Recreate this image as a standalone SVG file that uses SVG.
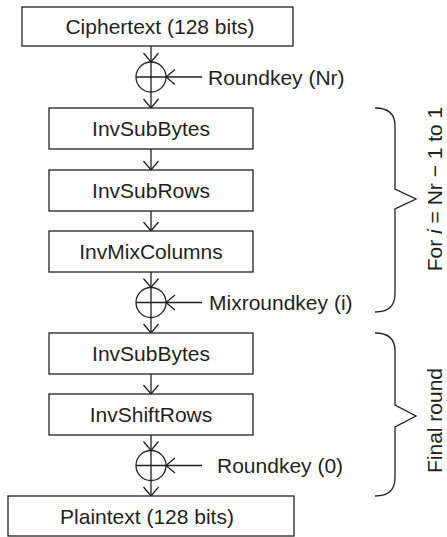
<svg xmlns="http://www.w3.org/2000/svg" width="447" height="537" viewBox="0 0 447 537">
  <defs>
    <style>
      .box { fill: #ffffff; stroke: #231f20; stroke-width: 1.3; }
      .ln { fill: none; stroke: #231f20; stroke-width: 1.3; }
      .lbl { font-family: "Liberation Sans", Arial, Helvetica, sans-serif; font-size: 21px; fill: #231f20; }
      .mid { text-anchor: middle; }
    </style>
    <!-- open V arrowhead -->
    <marker id="vee" viewBox="-10 -9 12 18" markerWidth="12" markerHeight="18" refX="0" refY="0" orient="auto" markerUnits="userSpaceOnUse">
      <path d="M-9,-7.5 L0,0 L-9,7.5" fill="none" stroke="#231f20" stroke-width="1.3"/>
    </marker>
  </defs>

  <rect width="447" height="537" fill="#ffffff"/>

  <!-- data path and key inputs -->
  <g id="connectors" class="ln" marker-end="url(#vee)">
    <line x1="151" y1="46" x2="151" y2="62"/>
    <line x1="151" y1="92" x2="151" y2="108"/>
    <line x1="202" y1="77" x2="166" y2="77"/>
    <line x1="151" y1="149" x2="151" y2="170"/>
    <line x1="151" y1="211" x2="151" y2="231"/>
    <line x1="151" y1="272" x2="151" y2="287.5"/>
    <line x1="151" y1="317.5" x2="151" y2="333"/>
    <line x1="202" y1="302.5" x2="166" y2="302.5"/>
    <line x1="151" y1="374" x2="151" y2="394"/>
    <line x1="151" y1="435" x2="151" y2="450.5"/>
    <line x1="151" y1="480.5" x2="151" y2="496"/>
    <line x1="202" y1="465.5" x2="166" y2="465.5"/>
  </g>

  <g id="ciphertext">
    <rect class="box" x="22" y="7" width="271" height="39"/>
    <text class="lbl mid" x="160" y="34">Ciphertext (128 bits)</text>
  </g>

  <g id="xor-nr">
    <circle class="ln" cx="151" cy="77" r="15"/>
    <path class="ln" d="M151,62 V92 M136,77 H166"/>
    <text class="lbl" x="208" y="84.5">Roundkey (Nr)</text>
  </g>

  <g id="invsubbytes-1">
    <rect class="box" x="49" y="108" width="204" height="41"/>
    <text class="lbl mid" x="151" y="136">InvSubBytes</text>
  </g>

  <g id="invsubrows">
    <rect class="box" x="49" y="170" width="204" height="41"/>
    <text class="lbl mid" x="151" y="198">InvSubRows</text>
  </g>

  <g id="invmixcolumns">
    <rect class="box" x="49" y="231" width="204" height="41"/>
    <text class="lbl mid" x="151" y="259">InvMixColumns</text>
  </g>

  <g id="xor-i">
    <circle class="ln" cx="151" cy="302.5" r="15"/>
    <path class="ln" d="M151,287.5 V317.5 M136,302.5 H166"/>
    <text class="lbl" x="209" y="310">Mixroundkey (i)</text>
  </g>

  <g id="invsubbytes-2">
    <rect class="box" x="49" y="333" width="204" height="41"/>
    <text class="lbl mid" x="151" y="361">InvSubBytes</text>
  </g>

  <g id="invshiftrows">
    <rect class="box" x="49" y="394" width="204" height="41"/>
    <text class="lbl mid" x="151" y="422">InvShiftRows</text>
  </g>

  <g id="xor-0">
    <circle class="ln" cx="151" cy="465.5" r="15"/>
    <path class="ln" d="M151,450.5 V480.5 M136,465.5 H166"/>
    <text class="lbl" x="217" y="473">Roundkey (0)</text>
  </g>

  <g id="plaintext">
    <rect class="box" x="8" y="496" width="286" height="40"/>
    <text class="lbl mid" x="147" y="523.5">Plaintext (128 bits)</text>
  </g>

  <!-- round braces -->
  <g id="loop-brace">
    <path class="ln" d="M375,108 C388,108 395,114 395,126 V189 L416,199 L395,209 V294 C395,306 388,312 375,312"/>
    <text class="lbl mid" transform="translate(442,189) rotate(-90)">For <tspan font-style="italic">i</tspan> = Nr − 1 to 1</text>
  </g>

  <g id="final-brace">
    <path class="ln" d="M375,333 C388,333 395,339 395,351 V405 L416,416 L395,427 V478 C395,490 388,496 375,496"/>
    <text class="lbl mid" transform="translate(442,420.5) rotate(-90)">Final round</text>
  </g>
</svg>
